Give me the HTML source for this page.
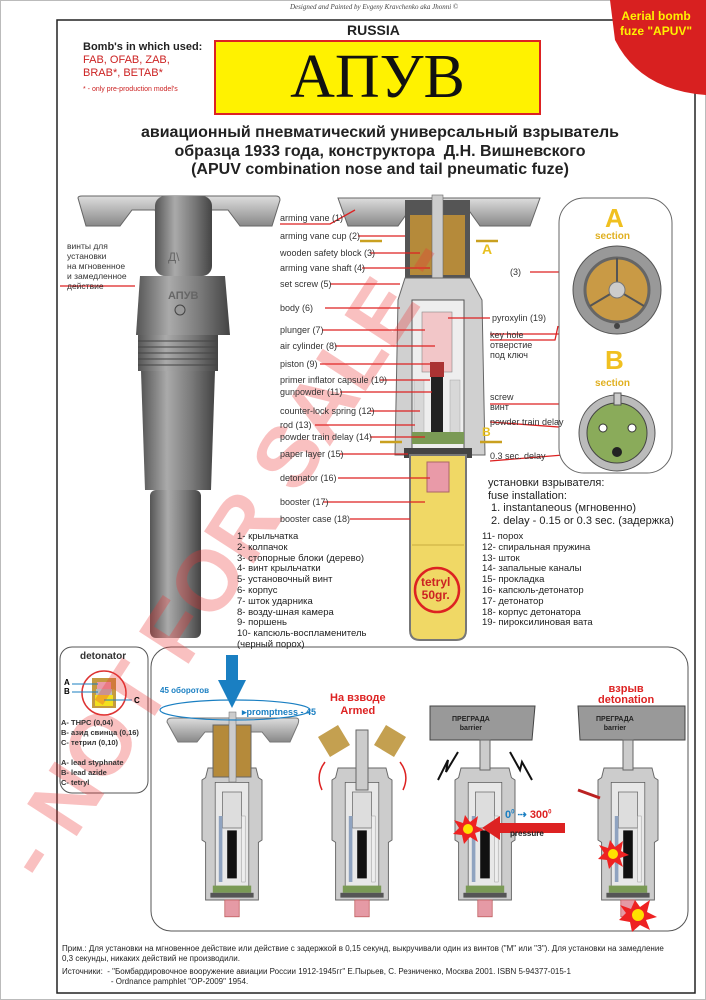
<!DOCTYPE html>
<html><head><meta charset="utf-8">
<style>
body{margin:0;width:706px;height:1000px;background:#fff;position:relative;overflow:hidden;font-family:"Liberation Sans","Noto Sans CJK SC",sans-serif}
.a{position:absolute;white-space:nowrap}
.lbl{font-size:9px;color:#333;line-height:11px}
</style></head><body>
<svg width="706" height="1000" style="position:absolute;left:0;top:0">
<defs>
<linearGradient id="gm" x1="0" x2="1"><stop offset="0" stop-color="#555"/><stop offset=".35" stop-color="#aaa"/><stop offset=".7" stop-color="#777"/><stop offset="1" stop-color="#444"/></linearGradient>
<linearGradient id="gv" x1="0" y1="0" x2="0" y2="1"><stop offset="0" stop-color="#ddd"/><stop offset="1" stop-color="#888"/></linearGradient>
<g id="sf">
 <path d="M-20,0 L20,0 L22,8 L25,10 L25,60 L22,62 L22,110 L-22,110 L-22,62 L-25,60 L-25,10 L-22,8Z" fill="#ccc" stroke="#666" stroke-width=".8"/>
 <rect x="-14" y="12" width="28" height="88" fill="#e8e8e8" stroke="#555" stroke-width=".6"/>
 <rect x="-8" y="20" width="16" height="30" fill="#ddd" stroke="#666" stroke-width=".6"/>
 <rect x="-4" y="52" width="8" height="40" fill="#111"/>
 <rect x="-11" y="40" width="3" height="55" fill="#8fa3c0"/><rect x="8" y="40" width="3" height="55" fill="#eee" stroke="#999" stroke-width=".4"/>
 <rect x="-16" y="98" width="32" height="6" fill="#7a9a55"/>
 <rect x="-18" y="104" width="36" height="4" fill="#555"/>
 <rect x="-6" y="110" width="12" height="14" fill="#e59aa5" stroke="#b55" stroke-width=".6"/>
</g>
</defs>
<rect x="0.5" y="0.5" width="705" height="999" fill="none" stroke="#bbb"/>
<rect x="57" y="20" width="638" height="973" fill="none" stroke="#222" stroke-width="1.5"/>
<path d="M610,0 L706,0 L706,95 Q640,90 615,40Z" fill="#d82020"/>
<rect x="215" y="41" width="325" height="73" fill="#fff200" stroke="#d22" stroke-width="2"/>
<!-- left fuze -->
<path d="M78,198 Q78,196 82,196 L276,196 Q280,196 280,200 L272,226 L240,226 L228,210 L205,210 L200,226 L160,226 L155,210 L132,210 L120,226 L86,226Z" fill="url(#gv)" stroke="#666"/>
<rect x="155" y="196" width="57" height="80" rx="10" fill="url(#gm)"/>
<path d="M140,276 L225,276 L230,335 L136,335Z" fill="url(#gm)"/>
<rect x="138" y="335" width="80" height="36" fill="url(#gm)"/>
<g stroke="#444" stroke-width="1"><line x1="138" y1="341" x2="218" y2="341"/><line x1="138" y1="347" x2="218" y2="347"/><line x1="138" y1="353" x2="218" y2="353"/><line x1="138" y1="359" x2="218" y2="359"/><line x1="138" y1="365" x2="218" y2="365"/></g>
<path d="M141,371 L215,371 L211,490 L145,490Z" fill="url(#gm)"/>
<rect x="150" y="490" width="51" height="148" rx="6" fill="url(#gm)"/>
<circle cx="180" cy="310" r="5" fill="#999" stroke="#444"/>
<line x1="60" y1="286" x2="135" y2="286" stroke="#d22" stroke-width="1.2"/>
<!-- center fuze -->
<path d="M338,198 L540,198 L530,226 L480,226 L470,212 L408,212 L398,226 L348,226Z" fill="url(#gv)" stroke="#666"/>
<rect x="405" y="200" width="65" height="78" fill="#555"/>
<rect x="410" y="215" width="22" height="60" fill="#b58a3a"/><rect x="443" y="215" width="22" height="60" fill="#b58a3a"/>
<rect x="432" y="195" width="11" height="110" fill="#ccc" stroke="#666" stroke-width=".6"/>
<path d="M405,278 L470,278 L482,300 L485,455 L395,455 L398,300Z" fill="#d0d0d0" stroke="#666"/>
<rect x="412" y="300" width="52" height="150" fill="#eee" stroke="#555"/>
<rect x="422" y="312" width="30" height="60" fill="#f2c6c8" stroke="#888" stroke-width=".6"/>
<rect x="430" y="362" width="14" height="15" fill="#a33"/>
<rect x="431" y="377" width="12" height="55" fill="#222"/>
<rect x="414" y="380" width="10" height="55" fill="#d8d8d8" stroke="#999" stroke-width=".4"/>
<rect x="450" y="380" width="10" height="55" fill="#d8d8d8" stroke="#999" stroke-width=".4"/>
<rect x="412" y="432" width="52" height="12" fill="#7a9a55"/>
<rect x="404" y="448" width="68" height="10" fill="#444"/>
<path d="M410,455 L466,455 L466,630 Q466,640 456,640 L420,640 Q410,640 410,630Z" fill="#f0d865" stroke="#777" stroke-width="2"/>
<line x1="412" y1="545" x2="464" y2="545" stroke="#c9ad40"/>
<rect x="427" y="462" width="22" height="30" fill="#e99aa8" stroke="#a66"/>
<circle cx="437" cy="590" r="22" fill="none" stroke="#d22" stroke-width="2.5"/>
<line x1="360" y1="241" x2="382" y2="241" stroke="#c9a020" stroke-width="2.5"/><line x1="476" y1="241" x2="498" y2="241" stroke="#c9a020" stroke-width="2.5"/>
<line x1="380" y1="442" x2="402" y2="442" stroke="#c9a020" stroke-width="2.5"/><line x1="480" y1="442" x2="502" y2="442" stroke="#c9a020" stroke-width="2.5"/>
<g stroke="#d22" stroke-width="1.3" fill="none">
<path d="M280,224 L330,224 L355,210"/><line x1="358" y1="236" x2="405" y2="236"/><line x1="370" y1="253" x2="420" y2="253"/><line x1="362" y1="268" x2="430" y2="268"/><line x1="330" y1="284" x2="400" y2="284"/><line x1="325" y1="308" x2="400" y2="308"/><line x1="322" y1="330" x2="425" y2="330"/><line x1="335" y1="346" x2="435" y2="346"/><line x1="320" y1="364" x2="430" y2="364"/><line x1="380" y1="380" x2="430" y2="380"/><line x1="340" y1="392" x2="432" y2="392"/><line x1="370" y1="411" x2="420" y2="411"/><line x1="315" y1="425" x2="415" y2="425"/><line x1="370" y1="437" x2="425" y2="437"/><line x1="340" y1="454" x2="408" y2="454"/><line x1="338" y1="478" x2="430" y2="478"/><line x1="323" y1="502" x2="425" y2="502"/><line x1="350" y1="519" x2="410" y2="519"/>
<line x1="448" y1="318" x2="490" y2="318"/><line x1="490" y1="334" x2="575" y2="334"/>
<path d="M490,340 L555,340 L558,326"/><line x1="530" y1="272" x2="570" y2="272"/>
<line x1="490" y1="404" x2="600" y2="404"/><line x1="490" y1="422" x2="600" y2="430"/><line x1="490" y1="461" x2="600" y2="452"/>
</g>
<!-- right panel -->
<rect x="559" y="198" width="113" height="275" rx="25" fill="#fff" stroke="#666"/>
<circle cx="617" cy="290" r="44" fill="#999" stroke="#555"/>
<circle cx="617" cy="290" r="32" fill="#c99a45" stroke="#666" stroke-width="3"/>
<g stroke="#555" stroke-width="2"><line x1="617" y1="290" x2="617" y2="258"/><line x1="617" y1="290" x2="644" y2="306"/><line x1="617" y1="290" x2="590" y2="306"/></g>
<circle cx="617" cy="290" r="8" fill="#ccc" stroke="#777"/>
<circle cx="617" cy="326" r="3" fill="#444"/>
<circle cx="617" cy="433" r="38" fill="#bbb" stroke="#555"/>
<circle cx="617" cy="433" r="30" fill="#8aab5a" stroke="#444"/>
<circle cx="603" cy="428" r="4" fill="#fff" stroke="#333"/><circle cx="632" cy="428" r="4" fill="#fff" stroke="#333"/><circle cx="617" cy="452" r="5" fill="#222"/>
<rect x="614" y="393" width="7" height="12" fill="#ccc" stroke="#555"/>
<!-- detonator box -->
<rect x="60" y="647" width="88" height="146" rx="12" fill="#fff" stroke="#555"/>
<circle cx="104" cy="693" r="22" fill="none" stroke="#d33" stroke-width="1.5"/>
<rect x="92" y="678" width="24" height="30" fill="#c49a40"/>
<rect x="97" y="682" width="14" height="7" fill="#e99aa8"/><rect x="96" y="689" width="16" height="6" fill="#bbb"/><rect x="95" y="695" width="18" height="11" fill="#f3e01c"/>
<g stroke="#1a7fc2" stroke-width="1"><line x1="72" y1="684" x2="98" y2="684"/><line x1="72" y1="692" x2="98" y2="692"/><line x1="104" y1="700" x2="132" y2="700"/></g>
<!-- bottom panel -->
<rect x="151" y="647" width="537" height="284" rx="20" fill="#fff" stroke="#555"/>
<use href="#sf" transform="translate(232,768) scale(1.2)"/>
<use href="#sf" transform="translate(362,768) scale(1.2)"/>
<use href="#sf" transform="translate(485,768) scale(1.2)"/>
<use href="#sf" transform="translate(628,768) scale(1.2)"/>
<path d="M167,722 Q167,718 172,718 L296,718 Q300,718 298,724 L290,742 L270,742 L262,732 L205,732 L197,742 L178,742Z" fill="url(#gv)" stroke="#777"/>
<rect x="213" y="725" width="38" height="52" fill="#b58a3a" stroke="#666"/>
<rect x="229" y="712" width="7" height="70" fill="#ccc" stroke="#666" stroke-width=".5"/>
<path d="M226,655 L238,655 L238,680 L246,680 L232,708 L218,680 L226,680Z" fill="#1a7fc2"/>
<ellipse cx="235" cy="710" rx="75" ry="10" fill="none" stroke="#1a7fc2" stroke-width="1.2"/>
<rect x="356" y="730" width="12" height="60" fill="#ccc" stroke="#666"/>
<path d="M318,737 L338,725 L350,745 L330,757Z" fill="#c4a050"/><path d="M386,725 L406,737 L394,757 L374,745Z" fill="#c4a050"/>
<path d="M325,762 Q315,775 322,790" fill="none" stroke="#d22" stroke-width="1.5"/><path d="M400,762 Q410,775 403,790" fill="none" stroke="#d22" stroke-width="1.5"/>
<path d="M430,706 L535,706 L532,740 L430,740Z" fill="#999" stroke="#444"/>
<path d="M578,706 L685,706 L685,740 L580,740Z" fill="#999" stroke="#444"/>
<rect x="480" y="740" width="10" height="30" fill="#ccc" stroke="#666"/><rect x="623" y="740" width="10" height="30" fill="#ccc" stroke="#666"/>
<path d="M438,780 L448,760 L446,772 L458,752" fill="none" stroke="#111" stroke-width="2"/>
<path d="M510,752 L520,770 L522,762 L532,780" fill="none" stroke="#111" stroke-width="2"/>
<path d="M565,823 L500,823 L500,816 L482,828 L500,840 L500,833 L565,833Z" fill="#d22"/>
<polygon points="465,815 470,822 478,816 476,826 484,830 475,833 478,842 470,837 464,844 462,835 453,834 459,828 454,820 463,823" fill="#e22"/><circle cx="468" cy="829" r="5" fill="#ffe000"/>
<polygon points="610,840 615,847 623,841 621,851 629,855 620,858 623,867 615,862 609,869 607,860 598,859 604,853 599,845 608,848" fill="#e22"/><circle cx="613" cy="854" r="5" fill="#ffe000"/>
<polygon points="635,900 640,907 650,900 647,912 657,917 646,920 650,930 640,925 632,932 630,922 619,920 626,913 620,905 631,909" fill="#e22"/><circle cx="638" cy="915" r="6" fill="#ffe000"/>
<line x1="578" y1="790" x2="600" y2="798" stroke="#b22" stroke-width="3"/>
<!-- watermark -->
<g opacity=".3"><text x="0" y="0" transform="translate(45,885) rotate(-57)" font-family="Liberation Sans" font-weight="bold" font-size="86" fill="#e33">- NOT FOR SALE -</text></g>
</svg>
<div class="a" style="left:290px;top:3px;font-size:7px;font-style:italic;color:#444;font-family:'Liberation Serif',serif">Designed and Painted by Evgeny Kravchenko aka Jhonni ©</div>
<div class="a" style="left:620px;top:9px;font-size:12px;font-weight:bold;color:#fff200;line-height:15px;text-align:center">Aerial bomb<br>fuze "APUV"</div>
<div class="a" style="left:347px;top:22px;font-size:14px;font-weight:bold;color:#222">RUSSIA</div>
<div class="a" style="left:83px;top:41px;font-size:11px;font-weight:bold;color:#222">Bomb's in which used:</div>
<div class="a" style="left:83px;top:54px;font-size:11px;color:#c22;line-height:13px">FAB, OFAB, ZAB,<br>BRAB*, BETAB*</div>
<div class="a" style="left:83px;top:86px;font-size:7px;color:#c22">* - only pre-production model's</div>
<div class="a" style="left:215px;top:41px;width:325px;text-align:center;font-family:'Liberation Serif',serif;font-size:62px;line-height:73px;color:#111">АПУВ</div>
<div class="a" style="left:130px;top:124px;width:500px;text-align:center;font-size:16px;font-weight:bold;color:#222;line-height:18.5px">авиационный пневматический универсальный взрыватель<br>образца 1933 года, конструктора &nbsp;Д.Н. Вишневского<br>(APUV combination nose and tail pneumatic fuze)</div>
<div class="a lbl" style="left:67px;top:241px;line-height:10px;font-size:8.5px">винты для<br>установки<br>на мгновенное<br>и замедленное<br>действие</div>
<div class="a" style="left:168px;top:250px;font-size:12px;color:#666">Д\</div>
<div class="a" style="left:168px;top:290px;font-size:11px;color:#666;font-weight:bold">АПУВ</div>
<div class="a lbl" style="left:280px;top:213px">arming vane (1)</div>
<div class="a lbl" style="left:280px;top:231px">arming vane cup (2)</div>
<div class="a lbl" style="left:280px;top:248px">wooden safety block (3)</div>
<div class="a lbl" style="left:280px;top:263px">arming vane shaft (4)</div>
<div class="a lbl" style="left:280px;top:279px">set screw (5)</div>
<div class="a lbl" style="left:280px;top:303px">body (6)</div>
<div class="a lbl" style="left:280px;top:325px">plunger (7)</div>
<div class="a lbl" style="left:280px;top:341px">air cylinder (8)</div>
<div class="a lbl" style="left:280px;top:359px">piston (9)</div>
<div class="a lbl" style="left:280px;top:375px">primer inflator capsule (10)</div>
<div class="a lbl" style="left:280px;top:387px">gunpowder (11)</div>
<div class="a lbl" style="left:280px;top:406px">counter-lock spring (12)</div>
<div class="a lbl" style="left:280px;top:420px">rod (13)</div>
<div class="a lbl" style="left:280px;top:432px">powder train delay (14)</div>
<div class="a lbl" style="left:280px;top:449px">paper layer (15)</div>
<div class="a lbl" style="left:280px;top:473px">detonator (16)</div>
<div class="a lbl" style="left:280px;top:497px">booster (17)</div>
<div class="a lbl" style="left:280px;top:514px">booster case (18)</div>
<div class="a" style="left:482px;top:241px;font-size:14px;font-weight:bold;color:#e8c020">A</div>
<div class="a" style="left:482px;top:425px;font-size:12px;font-weight:bold;color:#e8c020">B</div>
<div class="a lbl" style="left:492px;top:313px">pyroxylin (19)</div>
<div class="a lbl" style="left:490px;top:330px;line-height:10px">key hole<br>отверстие<br>под ключ</div>
<div class="a lbl" style="left:510px;top:267px">(3)</div>
<div class="a lbl" style="left:490px;top:392px;line-height:10px">screw<br>винт</div>
<div class="a lbl" style="left:490px;top:417px">powder train delay</div>
<div class="a lbl" style="left:490px;top:451px">0.3 sec. delay</div>
<div class="a" style="left:605px;top:203px;font-size:26px;font-weight:bold;color:#f0c020">A</div>
<div class="a" style="left:595px;top:231px;font-size:10px;font-weight:bold;color:#e0b020">section</div>
<div class="a" style="left:605px;top:345px;font-size:26px;font-weight:bold;color:#f0c020">B</div>
<div class="a" style="left:595px;top:378px;font-size:10px;font-weight:bold;color:#e0b020">section</div>
<div class="a" style="left:488px;top:477px;font-size:11px;color:#222;line-height:12.5px">установки взрывателя:<br>fuse installation:<br>&nbsp;1. instantaneous (мгновенно)<br>&nbsp;2. delay - 0.15 or 0.3 sec. (задержка)</div>
<div class="a" style="left:237px;top:532px;font-size:9.5px;color:#222;line-height:10.8px">1- крыльчатка<br>2- колпачок<br>3- стопорные блоки (дерево)<br>4- винт крыльчатки<br>5- установочный винт<br>6- корпус<br>7- шток ударника<br>8- возду-шная камера<br>9- поршень<br>10- капсюль-воспламенитель<br>(черный порох)</div>
<div class="a" style="left:482px;top:532px;font-size:9.5px;color:#222;line-height:10.8px">11- порох<br>12- спиральная пружина<br>13- шток<br>14- запальные каналы<br>15- прокладка<br>16- капсюль-детонатор<br>17- детонатор<br>18- корпус детонатора<br>19- пироксилиновая вата</div>
<div class="a" style="left:421px;top:576px;font-size:12px;font-weight:bold;color:#c22;line-height:13px;text-align:center">tetryl<br>50gr.</div>
<div class="a" style="left:80px;top:651px;font-size:10px;font-weight:bold;color:#333">detonator</div>
<div class="a" style="left:64px;top:678px;font-size:8px;font-weight:bold;line-height:9px">A<br>B</div>
<div class="a" style="left:134px;top:696px;font-size:8px;font-weight:bold">C</div>
<div class="a" style="left:61px;top:718px;font-size:7.5px;font-weight:bold;color:#333;line-height:10px">A- THPC (0,04)<br>B- азид свинца (0,16)<br>C- тетрил (0,10)<br><br>A- lead styphnate<br>B- lead azide<br>C- tetryl</div>
<div class="a" style="left:160px;top:686px;font-size:8px;font-weight:bold;color:#1a7fc2">45 оборотов</div>
<div class="a" style="left:242px;top:707px;font-size:9px;font-weight:bold;color:#1a7fc2">▸promptness - 45</div>
<div class="a" style="left:330px;top:692px;font-size:11px;font-weight:bold;color:#d22;text-align:center;line-height:13px">На взводе<br>Armed</div>
<div class="a" style="left:598px;top:684px;font-size:11px;font-weight:bold;color:#d22;text-align:center;line-height:11px">взрыв<br>detonation</div>
<div class="a" style="left:452px;top:715px;font-size:7px;font-weight:bold;color:#222;text-align:center;line-height:9px">ПРЕГРАДА<br>barrier</div>
<div class="a" style="left:596px;top:715px;font-size:7px;font-weight:bold;color:#222;text-align:center;line-height:9px">ПРЕГРАДА<br>barrier</div>
<div class="a" style="left:505px;top:808px;font-size:11px;font-weight:bold;color:#1a7fc2">0<sup style="font-size:6px">0</sup> <span style="color:#1a7fc2">⇢</span> <span style="color:#d22">300<sup style="font-size:6px">0</sup></span></div>
<div class="a" style="left:510px;top:829px;font-size:8px;font-weight:bold;color:#222">pressure</div>
<div class="a" style="left:62px;top:944px;font-size:8px;color:#222;line-height:10px">Прим.: Для установки на мгновенное действие или действие с задержкой в 0,15 секунд, выкручивали один из винтов ("М" или "З"). Для установки на замедление<br>0,3 секунды, никаких действий не производили.</div>
<div class="a" style="left:62px;top:967px;font-size:8px;color:#222;line-height:10px">Источники: &nbsp;- "Бомбардировочное вооружение авиации России 1912-1945гг" Е.Пырьев, С. Резниченко, Москва 2001. ISBN 5-94377-015-1<br>&nbsp;&nbsp;&nbsp;&nbsp;&nbsp;&nbsp;&nbsp;&nbsp;&nbsp;&nbsp;&nbsp;&nbsp;&nbsp;&nbsp;&nbsp;&nbsp;&nbsp;&nbsp;&nbsp;&nbsp;&nbsp;&nbsp;- Ordnance pamphlet "OP-2009" 1954.</div>
</body></html>
